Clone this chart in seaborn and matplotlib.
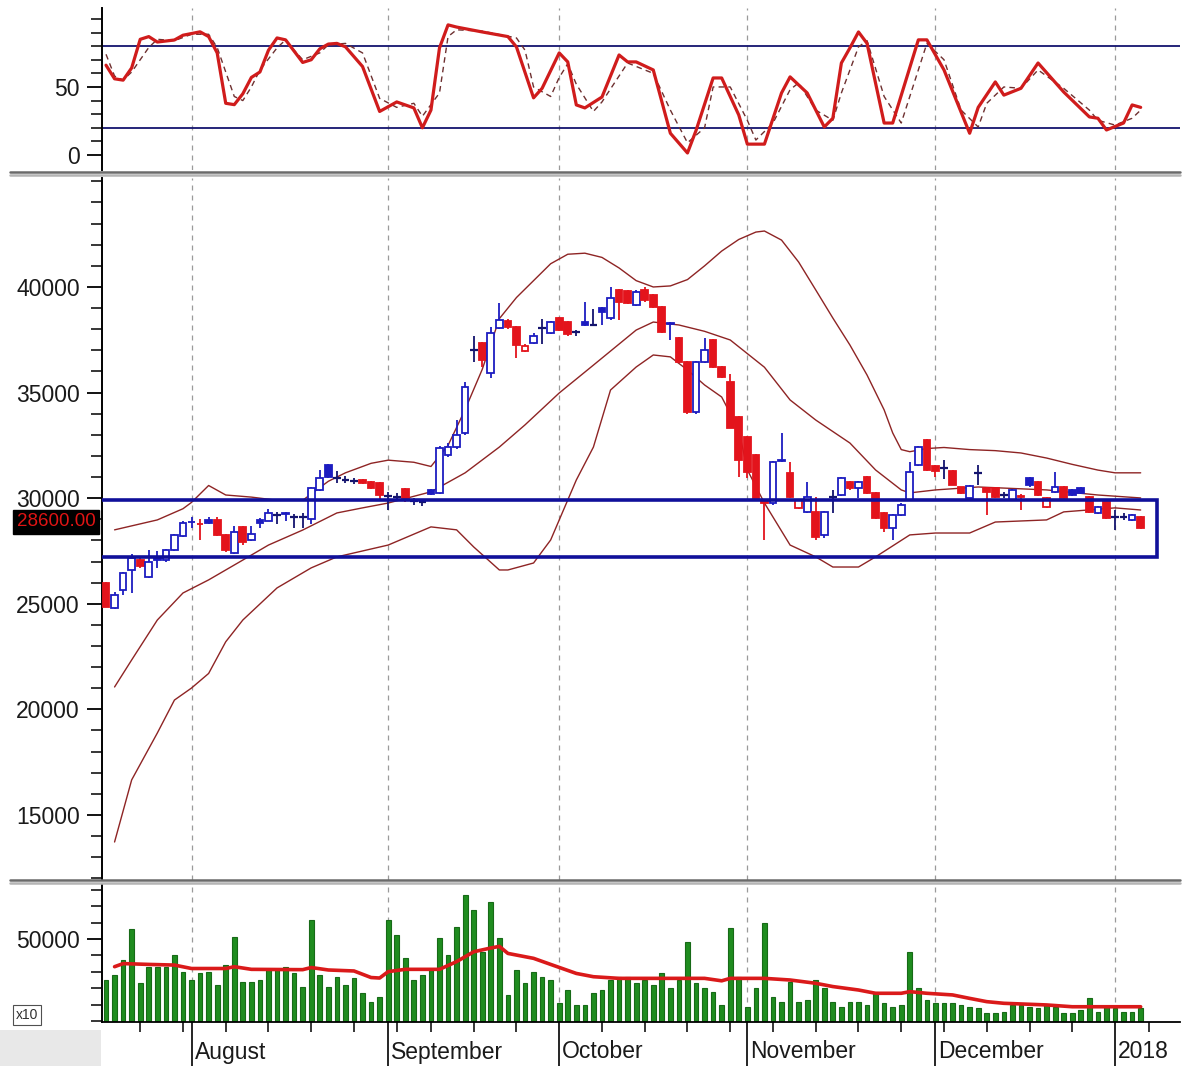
import numpy as np
import seaborn as sns
import matplotlib.pyplot as plt
from matplotlib.lines import Line2D
from matplotlib.patches import Rectangle
from matplotlib.ticker import FixedLocator

# ---- daily candles, 18 Jul 2017 .. 5 Jan 2018 (trading-day index 0..121)
opens = [26000, 24800, 25650, 26600, 27050, 26250, 27150, 27070, 27550, 28200,
         28850, 28800, 28950, 28950, 28260, 27400, 28640, 28020, 28950, 28920,
         29200, 29300, 29100, 29100, 29000, 30400, 31570, 30950, 30850, 30800,
         30850, 30750, 30700, 30100, 30050, 30450, 29850, 29800, 30400, 30250,
         32050, 32420, 33100, 37000, 37350, 35930, 38050, 38400, 38100, 36950,
         37350, 38050, 37800, 38550, 38350, 37850, 38350, 38200, 39000, 38530,
         39850, 39800, 39150, 39850, 39600, 39050, 38300, 37590, 36450, 34080,
         36450, 37500, 36200, 35500, 33850, 32900, 32050, 29900, 29770, 31800,
         31190, 29540, 29350, 29350, 28250, 30060, 30150, 30770, 30500, 31000,
         30250, 29300, 28600, 29200, 29900, 31570, 32750, 31500, 31430, 31300,
         30530, 29990, 31200, 30480, 30480, 30150, 29900, 30100, 30960, 30770,
         29580, 30300, 30530, 30400, 30480, 30060, 29300, 29900, 29110, 29110,
         28950, 29100]
highs = [26050, 25550, 26500, 27350, 27150, 27550, 27500, 27600, 28300, 28900,
         29100, 29000, 29100, 29100, 28300, 28700, 28700, 28700, 29050, 29500,
         29350, 29350, 29250, 29300, 30550, 31330, 31600, 31300, 31050, 30950,
         30900, 30800, 30750, 30300, 30250, 30500, 30000, 29950, 30450, 32450,
         32600, 33700, 35500, 37700, 37400, 38100, 39240, 38500, 38150, 37300,
         37800, 38500, 38400, 38600, 38400, 37950, 39300, 38950, 39050, 40000,
         39900, 39850, 39850, 40000, 39650, 39100, 38350, 37650, 36500, 36500,
         37600, 37550, 36250, 35900, 33900, 32950, 32100, 29950, 31750, 33100,
         31700, 29950, 30770, 30060, 29400, 30400, 31000, 30800, 30800, 31050,
         30300, 29350, 29250, 29750, 31700, 32450, 32800, 31550, 31800, 31350,
         30550, 30600, 31570, 30550, 30500, 30300, 30450, 30200, 31000, 30800,
         30050, 31240, 30580, 30450, 30550, 30100, 29650, 29950, 29440, 29300,
         29250, 29150]
lows = [24850, 24750, 25400, 25500, 26700, 26200, 26700, 27000, 27500, 28150,
        28600, 28000, 28800, 28200, 27450, 27350, 27800, 27950, 28600, 28900,
        28800, 28900, 28600, 28600, 28800, 30350, 30950, 30700, 30700, 30650,
        30650, 30450, 29900, 29450, 29850, 29800, 29700, 29650, 30150, 30200,
        31950, 32350, 33000, 36450, 36200, 35700, 38000, 38000, 36640, 36900,
        37300, 37300, 37750, 37900, 37700, 37700, 38150, 38150, 38200, 38450,
        38450, 39200, 39100, 39300, 39000, 37800, 37500, 36400, 34000, 34000,
        36400, 36150, 35700, 33300, 31000, 30960, 29850, 28020, 29700, 31700,
        30000, 29500, 29300, 28000, 28100, 29300, 30100, 30400, 30000, 30200,
        29000, 28400, 28000, 29150, 29850, 31500, 31300, 31000, 30900, 30600,
        30200, 29950, 30620, 29200, 30000, 30000, 29850, 29450, 30550, 30100,
        29550, 30250, 29950, 30100, 30200, 29300, 29250, 29000, 28500, 28950,
        28900, 28550]
closes = [24850, 25420, 26450, 27170, 26800, 26980, 27050, 27550, 28260, 28830,
          28870, 28780, 28830, 28260, 27550, 28400, 27930, 28300, 28830, 29300,
          29200, 29230, 29100, 29100, 30500, 30950, 31000, 30950, 30850, 30800,
          30700, 30500, 30150, 30100, 30050, 30000, 29850, 29800, 30200, 32380,
          32420, 33000, 35270, 37000, 36550, 37820, 38450, 38100, 37250, 37200,
          37700, 38050, 38350, 37950, 37750, 37850, 38200, 38200, 38800, 39480,
          39300, 39250, 39760, 39380, 39050, 37870, 38250, 36450, 34080, 36450,
          37020, 36200, 35740, 33320, 31810, 31240, 29900, 29750, 31700, 31750,
          30060, 29900, 30060, 28160, 29350, 30060, 30960, 30480, 30770, 30250,
          29060, 28590, 29200, 29680, 31240, 32430, 31330, 31300, 31430, 30620,
          30250, 30570, 31200, 30290, 30060, 30150, 30390, 30060, 30620, 30150,
          30010, 30530, 30010, 30150, 30250, 29350, 29580, 29060, 29110, 29110,
          29200, 28600]
volume = [25000, 28000, 37200, 56100, 23400, 33100, 33100, 33100, 40200, 30100,
          25000, 29200, 30100, 22000, 34100, 51400, 24000, 24000, 25000, 31100,
          31100, 33100, 29200, 20900, 61600, 28000, 20900, 27000, 22000, 26000,
          16900, 11800, 14800, 61600, 52400, 38200, 25000, 28000, 31100, 50400,
          40200, 57500, 76800, 67700, 42200, 72800, 50400, 15900, 31100, 23000,
          30100, 27000, 25000, 10800, 18900, 9800, 9800, 16900, 18900, 25000,
          27000, 27000, 23000, 25000, 22000, 29200, 19900, 25000, 48400, 23000,
          19900, 17900, 9800, 56500, 27000, 8700, 19900, 59600, 14800, 11800,
          24000, 11800, 12800, 25000, 19900, 11800, 8700, 11800, 11800, 9800,
          17900, 10800, 8700, 9800, 42300, 19900, 12800, 10800, 10800, 10800,
          9800, 8700, 7700, 4700, 4700, 5700, 9800, 9800, 8700, 7700,
          9800, 8700, 4700, 4700, 6700, 14000, 5700, 8700, 7700, 5700,
          5700, 7700]

# ---- Bollinger bands (day index, price)
bb_up_day = [1, 6, 9, 10, 12, 14, 17, 20, 23, 26, 28, 31, 33, 36, 38, 40, 42, 44, 46, 48,
             50, 52, 54, 56, 58, 60, 62, 64, 66, 68, 70, 72, 74, 76, 77, 79, 81, 83, 85, 87,
             89, 91, 92, 93, 94, 96, 98, 101, 104, 107, 110, 113, 116, 118, 121]
bb_up = [28500, 28970, 29500, 29800, 30600, 30150, 30050, 29900, 29900, 30800, 31200, 31650,
         31800, 31700, 31500, 32500, 34200, 36100, 38500, 39500, 40300, 41100, 41550, 41600,
         41400, 40900, 40300, 40000, 40050, 40350, 41000, 41700, 42250, 42600, 42650, 42220,
         41180, 39860, 38530, 37250, 35830, 34180, 33090, 32300, 32200, 32350, 32400, 32300,
         32250, 32140, 31900, 31600, 31330, 31200, 31200]
bb_mid_day = [1, 3, 6, 9, 12, 16, 19, 23, 27, 30, 33, 38, 42, 46, 49, 53, 57, 62, 64, 67,
              70, 73, 77, 80, 83, 87, 90, 93, 94, 97, 102, 110, 116, 121]
bb_mid = [21060, 22340, 24230, 25510, 26130, 27070, 27780, 28490, 29300, 29540, 29770, 30300,
          31200, 32420, 33470, 34980, 36300, 37960, 38340, 38200, 37900, 37490, 36200, 34650,
          33700, 32610, 31335, 30390, 30250, 30390, 30530, 30390, 30150, 30010]
bb_low_day = [1, 3, 6, 8, 10, 12, 14, 16, 20, 24, 27, 33, 38, 41, 43, 46, 47, 50, 52, 55,
              57, 59, 62, 64, 66, 68, 70, 72, 74, 75, 77, 80, 83, 85, 88, 90, 94, 97, 101, 104,
              110, 112, 118, 121]
bb_low = [13720, 16660, 18880, 20440, 21010, 21700, 23200, 24230, 25750, 26700, 27220, 27780,
          28640, 28500, 27690, 26600, 26600, 26930, 28020, 30860, 32420, 35120, 36210, 36780,
          36690, 36070, 35360, 34790, 33230, 31340, 29770, 27780, 27220, 26740, 26740, 27220,
          28260, 28350, 28350, 28870, 28970, 29350, 29540, 29440]

# ---- stochastic %K / %D
k_day = [0, 1, 2, 3, 4, 5, 6, 8, 9, 11, 12, 13, 14, 15, 16, 17, 18, 19, 20, 21,
         23, 24, 25, 26, 27, 28, 30, 32, 34, 36, 37, 38, 39, 40, 41, 44, 47, 48, 50, 51,
         53, 54, 55, 56, 58, 60, 61, 62, 64, 66, 68, 69, 71, 72, 74, 75, 77, 79, 80, 82,
         84, 85, 86, 87, 88, 89, 91, 92, 95, 96, 98, 101, 102, 104, 105, 107, 109, 112, 115, 116,
         117, 119, 120, 121]
k_val = [66, 56, 55, 64, 85, 87, 83, 84.5, 88, 90.5, 87, 75, 38, 37, 45, 57, 61, 77, 86, 84.6,
         68, 70, 78, 81.5, 82, 79.5, 65, 32, 39, 34.6, 20, 33, 78.7, 95.6, 94, 90.4, 87, 79.4, 42, 49,
         75, 68.4, 36.8, 34.6, 42.6, 73.5, 68.4, 68.4, 62.5, 16, 1.5, 18, 56.6, 56.6, 29.4, 8, 8, 45.6, 57.4, 45.6,
         20.6, 27, 67.6, 78.7, 90.4, 82, 23.5, 23.5, 84.6, 84.6, 62.5, 16, 35, 53.7, 44, 49, 67.6, 46.3, 28, 27,
         18.4, 23.5, 36.8, 35]
d_day = [0, 1, 2, 3, 5, 6, 8, 10, 12, 13, 15, 16, 17, 18, 20, 21, 22, 23, 25, 26,
         28, 30, 32, 34, 36, 37, 39, 40, 41, 44, 48, 49, 50, 52, 53, 54, 55, 57, 58, 61,
         64, 66, 68, 70, 71, 73, 75, 76, 78, 80, 81, 83, 85, 86, 88, 89, 91, 93, 95, 96,
         98, 100, 102, 103, 105, 107, 109, 112, 115, 116, 118, 120, 121]
d_val = [74, 58, 55, 61, 79, 85, 84, 88.7, 88.7, 79, 43, 40, 50, 62.5, 78.7, 84.6, 77, 70, 75, 81,
         82, 75, 41.6, 35, 38, 28.5, 45.6, 87, 92, 91, 86, 77, 50, 43, 57, 67, 52, 32, 39, 67.6,
         60, 33, 9, 20, 50, 50, 25.5, 11, 23.5, 48, 53, 33, 25.5, 45.6, 79.4, 84, 43, 23.5, 62.5, 82,
         70, 33, 20.6, 38, 50, 49, 62.5, 49, 33, 25.5, 22, 27, 33]

# ---- volume moving average
vma_day = [1, 2, 5, 8, 10, 14, 15, 17, 23, 24, 26, 29, 31, 32, 33, 35, 39, 41, 43, 45,
           46, 47, 50, 52, 55, 57, 60, 70, 72, 73, 77, 80, 83, 85, 88, 90, 93, 94, 96, 99,
           101, 103, 105, 110, 113, 121]
vma = [33100, 35000, 34500, 34100, 32000, 32000, 33100, 31500, 31300, 32600, 31100, 30500,
       26500, 26200, 30100, 31500, 31500, 36200, 42200, 44500, 45500, 41200, 38200, 34500,
       29000, 27000, 26000, 26000, 24500, 26000, 26000, 25000, 23000, 21000, 18900, 16900,
       16900, 17900, 16900, 15900, 13800, 11800, 10800, 9800, 8700, 8700]

month_day = [10, 33, 53, 75, 97, 118]
month_lbl = ['August', 'September', 'October', 'November', 'December', '2018']
week_day = [4, 9, 14, 19, 24, 29, 34, 38, 43, 48, 53, 58, 63, 68, 73, 78, 83, 88, 93, 98,
            103, 108, 113, 122]

zone_low, zone_high = 27200, 29900     # the blue box drawn over the price panel

# ---- colours
RED = '#e3141c'
BLUE = '#1c1cc0'
NAVY = '#14146e'
BAND = '#8e2424'
GREEN = '#1f8c1f'
GRID = '#9a9a9a'

sns.set_theme(style='white')
plt.rcParams['font.family'] = ['Liberation Sans', 'DejaVu Sans']

W, H = 1190, 1066
fig = plt.figure(figsize=(W / 100, H / 100), dpi=100)


def px_axes(x0, y0, x1, y1):
    return fig.add_axes([x0 / W, 1 - y1 / H, (x1 - x0) / W, (y1 - y0) / H])


ax_st = px_axes(102, 8, 1180, 170)
ax_pr = px_axes(102, 178, 1180, 880)
ax_vol = px_axes(102, 885, 1180, 1022)

# ---- stochastic panel
ax_st.axhline(80, color=NAVY, lw=1.3, zorder=1)
ax_st.axhline(20, color=NAVY, lw=1.3, zorder=1)
sns.lineplot(x=d_day, y=d_val, ax=ax_st, color='#6e3030', lw=1.0, linestyle=(0, (4, 3)),
             estimator=None, zorder=2)
sns.lineplot(x=k_day, y=k_val, ax=ax_st, color='#d01c1c', lw=2.3, estimator=None, zorder=3)

# ---- price panel
day = np.arange(len(closes))
o, h, l, c = (np.array(a, dtype=float) for a in (opens, highs, lows, closes))
prev = np.r_[o[0], c[:-1]]
col = np.where(c > prev, BLUE, np.where(c < prev, RED, NAVY))
doji = c == o
col[doji] = NAVY
hollow = c > o

ax_pr.vlines(day, l, h, colors=col, lw=1.3, zorder=3)
body = ~doji
face = np.where(hollow, 'white', col)
ax_pr.bar(day[body], np.abs(c - o)[body], bottom=np.minimum(o, c)[body], width=0.78,
          color=face[body], edgecolor=col[body], linewidth=1.3, zorder=4)
ax_pr.hlines(c[doji], day[doji] - 0.45, day[doji] + 0.45, colors=NAVY, lw=1.6, zorder=4)

for dd, vv in ((bb_up_day, bb_up), (bb_mid_day, bb_mid), (bb_low_day, bb_low)):
    sns.lineplot(x=dd, y=vv, ax=ax_pr, color=BAND, lw=1.0, estimator=None, zorder=2)

ax_pr.add_patch(Rectangle((-0.7, zone_low), 123.6, zone_high - zone_low, fill=False,
                          ec='#10109a', lw=2.6, zorder=5))

ax_pr.annotate(f'{closes[-1]:.2f}', xy=(0, closes[-1]), xycoords=('axes fraction', 'data'),
               xytext=(-46, 6), textcoords='offset pixels', ha='center', va='center',
               color='#e01414', fontsize=13.5, zorder=10, annotation_clip=False,
               bbox=dict(boxstyle='square,pad=0.18', fc='black', ec='black'))

# ---- volume panel
sns.barplot(x=day, y=volume, ax=ax_vol, native_scale=True, width=0.55, color=GREEN,
            saturation=1, errorbar=None, edgecolor='#176a17', linewidth=0.8, zorder=2)
sns.lineplot(x=vma_day, y=vma, ax=ax_vol, color='#da1a1a', lw=2.6, estimator=None, zorder=3)
ax_vol.annotate('x10', xy=(0, 0), xycoords='axes fraction', xytext=(-75, 7),
                textcoords='offset pixels', ha='center', va='center', fontsize=10,
                color='#303030', annotation_clip=False,
                bbox=dict(boxstyle='square,pad=0.2', fc='white', ec='#505050', lw=0.8))

# ---- axes styling
for ax in (ax_st, ax_pr, ax_vol):
    ax.set_xlim(-0.47, 125.6)
    ax.set_facecolor('white')
    for s in ('top', 'right'):
        ax.spines[s].set_visible(False)
    ax.spines['left'].set_color('black')
    ax.spines['left'].set_linewidth(1.4)
    for m in month_day:
        ax.axvline(m, color=GRID, lw=0.9, ls=(0, (4, 4)), zorder=0)
    ax.set_xlabel('')
    ax.set_ylabel('')
    ax.tick_params(axis='y', which='both', left=True, direction='out', color='black',
                   labelcolor='#1a1a1a', labelsize=16.5, pad=5)
    ax.tick_params(axis='y', which='major', length=11, width=1.3)
    ax.tick_params(axis='y', which='minor', length=8, width=1.1)

for ax in (ax_st, ax_pr):
    ax.spines['bottom'].set_visible(False)
    ax.set_xticks([])

ax_st.set_ylim(-11, 108)
ax_st.yaxis.set_major_locator(FixedLocator([0, 50]))
ax_st.yaxis.set_minor_locator(FixedLocator(range(0, 101, 10)))

ax_pr.set_ylim(11920, 45160)
ax_pr.yaxis.set_major_locator(FixedLocator(range(15000, 40001, 5000)))
ax_pr.yaxis.set_minor_locator(FixedLocator(range(12000, 45001, 1000)))

ax_vol.set_ylim(-600, 82900)
ax_vol.yaxis.set_major_locator(FixedLocator([50000]))
ax_vol.yaxis.set_minor_locator(FixedLocator(range(0, 80001, 10000)))
ax_vol.spines['bottom'].set_color('black')
ax_vol.spines['bottom'].set_linewidth(1.3)
ax_vol.xaxis.set_major_locator(FixedLocator(month_day))
ax_vol.xaxis.set_minor_locator(FixedLocator(week_day))
ax_vol.set_xticklabels([''] * len(month_day))
ax_vol.tick_params(axis='x', which='both', bottom=True, direction='out', color='black')
ax_vol.tick_params(axis='x', which='major', length=32, width=1.2)
ax_vol.tick_params(axis='x', which='minor', length=7, width=1.1)
ax_vol.set_xlim(-0.47, 125.6)
for m, lbl in zip(month_day, month_lbl):
    ax_vol.annotate(lbl, xy=(m, 0), xycoords=('data', 'axes fraction'), xytext=(3, -30),
                    textcoords='offset pixels', ha='left', va='center', fontsize=16.5,
                    color='#1a1a1a', annotation_clip=False)

# ---- panel separators and the grey corner
for yy, cc in ((172, '#6a6a6a'), (174.5, '#b4b4b4'), (880, '#6a6a6a'), (882.5, '#b4b4b4')):
    fig.add_artist(Line2D([10 / W, 1180 / W], [1 - yy / H] * 2, color=cc, lw=1.8))
fig.add_artist(Rectangle((0, 0), 101 / W, 36 / H, transform=fig.transFigure,
                         fc='#e8e8e8', ec='none', zorder=-1))

fig.savefig('out.png', dpi=100, facecolor='white')
